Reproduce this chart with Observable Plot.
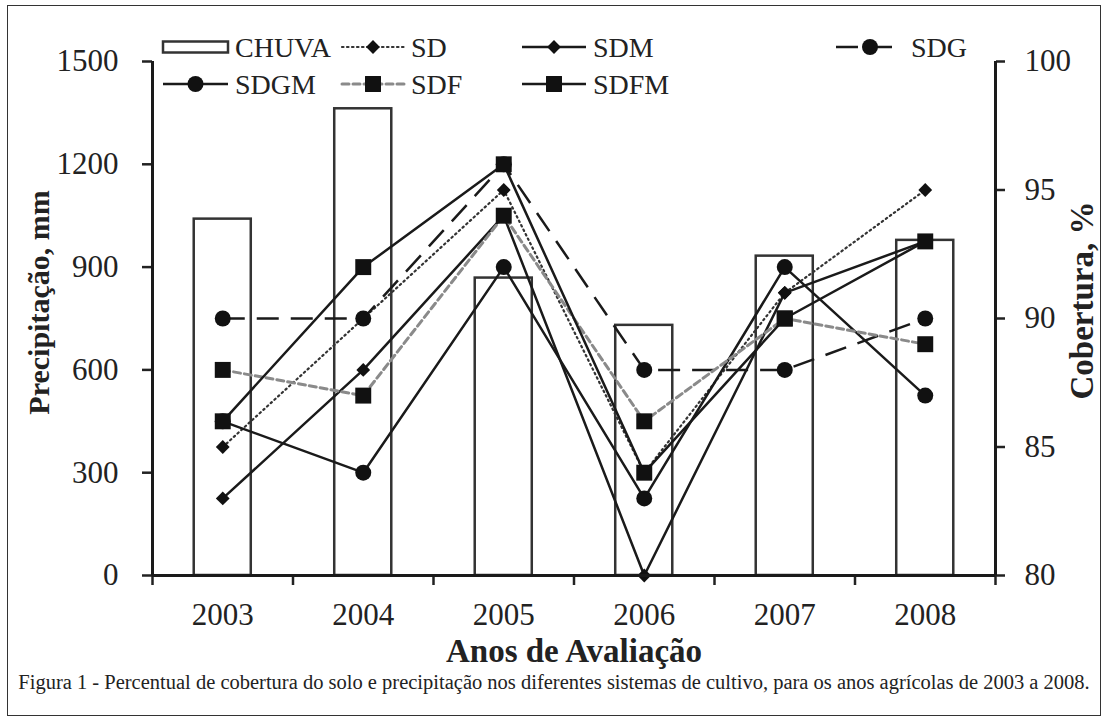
<!DOCTYPE html>
<html><head><meta charset="utf-8">
<script src="https://cdn.jsdelivr.net/npm/d3@7"></script>
<script src="https://cdn.jsdelivr.net/npm/@observablehq/plot@0.6"></script>
<style>
body{margin:0;background:#fff;}
#fig{position:relative;width:1108px;height:722px;overflow:hidden;font-family:'Liberation Serif';}
#frame{position:absolute;left:7px;top:5px;width:1094px;height:711px;border:1.5px solid #333;box-sizing:border-box;pointer-events:none}
#legend{position:absolute;left:0;top:0;}
#caption{position:absolute;left:0;width:1108px;top:672px;line-height:21px;text-align:center;font-size:20.5px;color:#222;font-family:'Liberation Serif';}
</style></head>
<body>
<div id="fig"><div id="chart"></div><svg id="legend" width="1108" height="110"></svg>
<div id="caption">Figura 1 - Percentual de cobertura do solo e precipitação nos diferentes sistemas de cultivo, para os anos agrícolas de 2003 a 2008.</div>
<div id="frame"></div></div>
<script>
// ---- data ----
const years = [2003, 2004, 2005, 2006, 2007, 2008];
const chuva = [1040, 1362, 868, 730, 932, 978];          // Precipitação, mm
const SD   = [85, 90, 95, 84, 91, 95];                    // Cobertura, %
const SDM  = [83, 88, 94, 80, 91, 93];
const SDG  = [90, 90, 96, 88, 88, 90];
const SDGM = [86, 84, 92, 83, 92, 87];
const SDF  = [88, 87, 94, 86, 90, 89];
const SDFM = [86, 92, 96, 84, 90, 93];
const seriesNames = ["SD", "SDM", "SDG", "SDGM", "SDF", "SDFM"];
const seriesValues = [SD, SDM, SDG, SDGM, SDF, SDFM];
const mmTicks = [0, 300, 600, 900, 1200, 1500];
const covTicks = [80, 85, 90, 95, 100];
const yearLabels = ["2003", "2004", "2005", "2006", "2007", "2008"];

// ---- helpers ----
const FONT = "Liberation Serif";
const toMm = c => (c - 80) * 75;     // 80–100 % mapped onto 0–1500 mm
const diamond = {draw(ctx, size) {const r = Math.sqrt(size / 2); ctx.moveTo(0, -r); ctx.lineTo(r, 0); ctx.lineTo(0, r); ctx.lineTo(-r, 0); ctx.closePath();}};
const styles = {
  SD:   {stroke: "#333", strokeWidth: 2.2, dash: "1.5,3.5", cap: "round", symbol: diamond, r: 5.5},
  SDM:  {stroke: "#1a1a1a", strokeWidth: 2.5, dash: null, cap: "butt", symbol: diamond, r: 5.5},
  SDG:  {stroke: "#1a1a1a", strokeWidth: 2.5, dash: "22,12", cap: "butt", symbol: "circle", r: 8},
  SDGM: {stroke: "#1a1a1a", strokeWidth: 2.5, dash: null, cap: "butt", symbol: "circle", r: 8},
  SDF:  {stroke: "#8a8a8a", strokeWidth: 3, dash: "7,4", cap: "round", symbol: "square", r: 9},
  SDFM: {stroke: "#1a1a1a", strokeWidth: 2.5, dash: null, cap: "butt", symbol: "square", r: 9}
};

const bars = years.map((y, i) => ({year: y, mm: chuva[i]}));
const rows = [];
seriesNames.forEach((name, i) => seriesValues[i].forEach((v, j) => rows.push({serie: name, year: years[j], cov: v})));
const bounds = [years[0] - 0.5, ...years.map(y => y + 0.5)];

const marks = [
  Plot.rectY(bars, {x1: d => d.year - 0.203, x2: d => d.year + 0.203, y1: 0, y2: "mm", fill: "white", stroke: "#333", strokeWidth: 2.5}),
];
seriesNames.forEach(name => {
  const s = styles[name];
  marks.push(Plot.line(rows.filter(r => r.serie === name), {x: "year", y: d => toMm(d.cov), stroke: s.stroke, strokeWidth: s.strokeWidth, strokeDasharray: s.dash, strokeLinecap: s.cap, strokeLinejoin: "miter"}));
});
seriesNames.forEach(name => {
  const s = styles[name];
  marks.push(Plot.dot(rows.filter(r => r.serie === name), {x: "year", y: d => toMm(d.cov), symbol: s.symbol, r: s.r, fill: "#111", stroke: "none"}));
});
marks.push(
  Plot.axisY({anchor: "left", ticks: mmTicks, tickFormat: d => String(d), tickSize: 10, tickPadding: 24, label: null, strokeWidth: 2.5, fontFamily: FONT, fontSize: 31}),
  Plot.axisY({anchor: "right", ticks: covTicks.map(toMm), tickFormat: d => String(80 + d / 75), tickSize: 9, tickPadding: 20, label: null, strokeWidth: 2.5, fontFamily: FONT, fontSize: 31}),
  Plot.axisX({ticks: bounds, tickFormat: () => "", tickSize: 10, label: null, strokeWidth: 2.5}),
  Plot.axisX({ticks: years, tickFormat: d => yearLabels[years.indexOf(d)], tickSize: 0, tickPadding: 27, label: null, fontFamily: FONT, fontSize: 31}),
  Plot.ruleY([0], {strokeWidth: 3, stroke: "#1a1a1a"}),
  Plot.ruleX([bounds[0]], {strokeWidth: 3, stroke: "#1a1a1a"}),
  Plot.ruleX([bounds[bounds.length - 1]], {strokeWidth: 3, stroke: "#1a1a1a"}),
  Plot.text(["Precipitação, mm"], {text: d => d, frameAnchor: "left", textAnchor: "middle", dx: -113, dy: -16, rotate: -90, fontWeight: "bold", fontSize: 30, fill: "#222", fontFamily: FONT}),
  Plot.text(["Cobertura, %"], {text: d => d, frameAnchor: "right", textAnchor: "middle", dx: 87, dy: -18, rotate: -90, fontWeight: "bold", fontSize: 33, fill: "#222", fontFamily: FONT}),
  Plot.text(["Anos de Avaliação"], {text: d => d, frameAnchor: "bottom", textAnchor: "middle", dy: 86, fontWeight: "bold", fontSize: 33, fill: "#222", fontFamily: FONT})
);

const chart = Plot.plot({
  width: 1108, height: 670,
  marginLeft: 152, marginRight: 113, marginTop: 61, marginBottom: 95,
  x: {type: "linear", domain: [bounds[0], bounds[bounds.length - 1]]},
  y: {domain: [0, 1500]},
  style: {fontFamily: FONT, fontSize: "28px", color: "#222", background: "transparent", overflow: "visible"},
  marks
});
document.getElementById("chart").appendChild(chart);

// ---- legend (inside the plot area, built from the series names) ----
const legendItems = ["CHUVA", "SD", "SDM", "SDG", "SDGM", "SDF", "SDFM"];
const legendPos = {
  CHUVA: [163, 228, 47], SD: [342, 404, 47], SDM: [522, 586, 47], SDG: [836, 904, 47],
  SDGM: [163, 228, 84], SDF: [342, 404, 84], SDFM: [522, 586, 84]
};
const lg = d3.select("#legend");
legendItems.forEach(name => {
  const [x0, x1, y] = legendPos[name];
  const g = lg.append("g");
  if (name === "CHUVA") {
    g.append("rect").attr("x", x0).attr("y", y - 5.5).attr("width", x1 - x0).attr("height", 11)
      .attr("fill", "white").attr("stroke", "#333").attr("stroke-width", 2.5);
  } else {
    const s = styles[name];
    g.append("line").attr("x1", x0).attr("x2", x1).attr("y1", y).attr("y2", y)
      .attr("stroke", s.stroke).attr("stroke-width", s.strokeWidth)
      .attr("stroke-dasharray", s.dash).attr("stroke-linecap", s.cap);
    const sym = s.symbol === "circle" ? d3.symbolCircle : s.symbol === "square" ? d3.symbolSquare : diamond;
    g.append("path").attr("transform", `translate(${(x0 + x1) / 2},${y})`)
      .attr("d", d3.symbol(sym, Math.PI * s.r * s.r)()).attr("fill", "#111");
  }
  g.append("text").attr("x", x1 + 7).attr("y", y).attr("dy", "0.35em")
    .attr("font-size", 28).attr("fill", "#222")
    .attr("font-family", FONT).text(name);
});
</script>
</body></html>
